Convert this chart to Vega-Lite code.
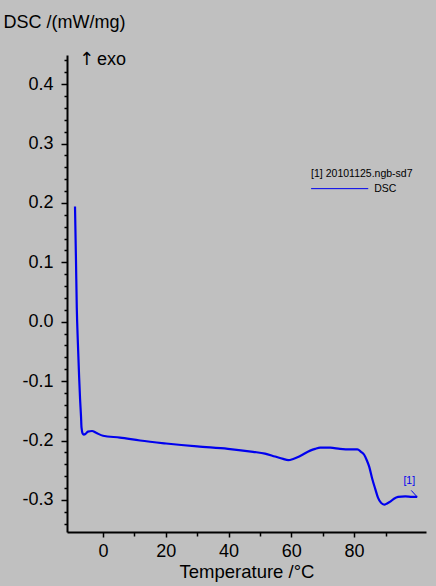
{
  "$schema": "https://vega.github.io/schema/vega-lite/v6.json",
  "width": 359,
  "height": 477,
  "autosize": "none",
  "padding": {"left": 67, "top": 55, "right": 10, "bottom": 54},
  "background": "#c0c0c0",
  "config": {
    "view": {"stroke": null},
    "font": "Liberation Sans",
    "axis": {
      "domainColor": "#000000",
      "domainWidth": 2,
      "tickColor": "#000000",
      "tickWidth": 1.5,
      "labelColor": "#000000",
      "titleColor": "#000000",
      "labelFont": "Liberation Sans",
      "titleFont": "Liberation Sans",
      "labelFontSize": 18,
      "titleFontSize": 18,
      "titleFontWeight": "normal",
      "grid": false
    }
  },
  "datasets": {
    "curve": [
      {"x": -8.92, "y": 0.194},
      {"x": -8.61, "y": 0.104},
      {"x": -8.35, "y": 0.023},
      {"x": -8.0, "y": -0.036},
      {"x": -7.6, "y": -0.094},
      {"x": -7.3, "y": -0.131},
      {"x": -7.0, "y": -0.160},
      {"x": -6.85, "y": -0.178},
      {"x": -6.5, "y": -0.188},
      {"x": -6.1, "y": -0.190},
      {"x": -5.6, "y": -0.189},
      {"x": -4.8, "y": -0.185},
      {"x": -3.5, "y": -0.184},
      {"x": -2.2, "y": -0.187},
      {"x": 0.0, "y": -0.192},
      {"x": 5.4, "y": -0.195},
      {"x": 11.8, "y": -0.200},
      {"x": 20.1, "y": -0.205},
      {"x": 30.0, "y": -0.210},
      {"x": 39.8, "y": -0.214},
      {"x": 47.8, "y": -0.219},
      {"x": 51.6, "y": -0.222},
      {"x": 54.8, "y": -0.227},
      {"x": 57.4, "y": -0.231},
      {"x": 59.0, "y": -0.233},
      {"x": 60.6, "y": -0.231},
      {"x": 62.8, "y": -0.226},
      {"x": 66.0, "y": -0.217},
      {"x": 67.6, "y": -0.214},
      {"x": 69.2, "y": -0.212},
      {"x": 72.4, "y": -0.212},
      {"x": 75.5, "y": -0.214},
      {"x": 78.7, "y": -0.215},
      {"x": 81.0, "y": -0.215},
      {"x": 82.2, "y": -0.219},
      {"x": 83.2, "y": -0.224},
      {"x": 84.1, "y": -0.234},
      {"x": 84.8, "y": -0.244},
      {"x": 85.7, "y": -0.263},
      {"x": 86.7, "y": -0.281},
      {"x": 87.6, "y": -0.296},
      {"x": 88.6, "y": -0.305},
      {"x": 89.6, "y": -0.308},
      {"x": 90.5, "y": -0.306},
      {"x": 91.5, "y": -0.303},
      {"x": 92.7, "y": -0.298},
      {"x": 94.0, "y": -0.295},
      {"x": 96.3, "y": -0.294},
      {"x": 98.5, "y": -0.295},
      {"x": 100.1, "y": -0.295}
    ],
    "labels": [
      {"x": -7.6, "y": 0.433, "t": "↑", "kind": "arrow"},
      {"x": -1.9, "y": 0.433, "t": "exo", "kind": "exo"},
      {"x": 66.3, "y": 0.244, "t": "[1] 20101125.ngb-sd7", "kind": "legend"},
      {"x": 86.4, "y": 0.219, "t": "DSC", "kind": "legend"},
      {"x": 95.7, "y": -0.273, "t": "[1]", "kind": "tag"}
    ],
    "segments": [
      {"x": 66.3, "x2": 84.5, "y": 0.224, "y2": 0.224},
      {"x": 98.2, "x2": 100.1, "y": -0.284, "y2": -0.295}
    ]
  },
  "encoding": {
    "x": {
      "field": "x",
      "type": "quantitative",
      "scale": {"domain": [-11.47, 102.9], "nice": false, "zero": false},
      "axis": {
        "title": "Temperature /°C",
        "titleFontSize": 18.5,
        "titleBaseline": "alphabetic",
        "titleX": 179.5,
        "titleY": 45,
        "values": [0, 10, 20, 30, 40, 50, 60, 70, 80, 90],
        "labelExpr": "datum.value % 20 == 0 ? format(datum.value, 'd') : ''",
        "tickSize": {"condition": {"test": "datum.value % 20 == 0", "value": 5}, "value": 4},
        "labelPadding": 5,
        "labelFlush": false,
        "labelOverlap": false
      }
    },
    "y": {
      "field": "y",
      "type": "quantitative",
      "scale": {"domain": [-0.354, 0.449], "nice": false, "zero": false},
      "axis": {
        "title": "DSC /(mW/mg)",
        "titleAngle": 0,
        "titleAlign": "left",
        "titleBaseline": "alphabetic",
        "titleX": -64,
        "titleY": -28,
        "values": [-0.34, -0.32, -0.3, -0.28, -0.26, -0.24, -0.22, -0.2, -0.18, -0.16, -0.14, -0.12, -0.1, -0.08, -0.06, -0.04, -0.02, 0, 0.02, 0.04, 0.06, 0.08, 0.1, 0.12, 0.14, 0.16, 0.18, 0.2, 0.22, 0.24, 0.26, 0.28, 0.3, 0.32, 0.34, 0.36, 0.38, 0.4, 0.42, 0.44],
        "labelExpr": "abs(datum.value*10 - round(datum.value*10)) < 0.001 ? replace(format(datum.value, '.1f'), '−', '-') : ''",
        "tickSize": {"condition": {"test": "abs(datum.value*10 - round(datum.value*10)) < 0.001", "value": 6}, "value": 3},
        "labelPadding": 8,
        "labelFlush": false,
        "labelOverlap": false
      }
    }
  },
  "layer": [
    {
      "data": {"name": "curve"},
      "mark": {"type": "line", "color": "#0000ee", "strokeWidth": 2.2, "interpolate": "monotone"}
    },
    {
      "data": {"name": "segments"},
      "mark": {"type": "rule", "color": "#0000ee", "strokeWidth": 1},
      "encoding": {"x2": {"field": "x2"}, "y2": {"field": "y2"}}
    },
    {
      "data": {"name": "labels"},
      "transform": [{"filter": "datum.kind == 'arrow'"}],
      "mark": {"type": "text", "align": "left", "baseline": "alphabetic", "fontSize": 18, "font": "DejaVu Sans", "color": "#000000"},
      "encoding": {"text": {"field": "t"}}
    },
    {
      "data": {"name": "labels"},
      "transform": [{"filter": "datum.kind == 'exo'"}],
      "mark": {"type": "text", "align": "left", "baseline": "alphabetic", "fontSize": 18, "color": "#000000"},
      "encoding": {"text": {"field": "t"}}
    },
    {
      "data": {"name": "labels"},
      "transform": [{"filter": "datum.kind == 'legend'"}],
      "mark": {"type": "text", "align": "left", "baseline": "alphabetic", "fontSize": 10.5, "color": "#000000"},
      "encoding": {"text": {"field": "t"}}
    },
    {
      "data": {"name": "labels"},
      "transform": [{"filter": "datum.kind == 'tag'"}],
      "mark": {"type": "text", "align": "left", "baseline": "alphabetic", "fontSize": 10.5, "color": "#0000ee"},
      "encoding": {"text": {"field": "t"}}
    }
  ]
}
